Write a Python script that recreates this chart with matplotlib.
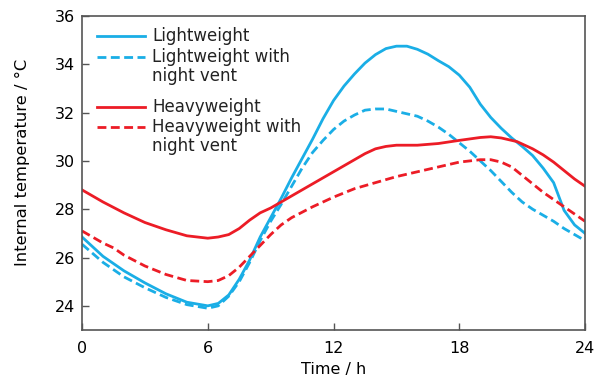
import matplotlib
matplotlib.use("Agg")
import matplotlib.pyplot as plt
from matplotlib.lines import Line2D

# ---- data ----
lw_t = [0, 1, 2, 3, 4, 5, 6, 6.5, 7, 7.5, 8, 8.5, 9, 9.5, 10, 10.5, 11, 11.5, 12,
        12.5, 13, 13.5, 14, 14.5, 15, 15.5, 16, 16.5, 17, 17.5, 18, 18.5, 19, 19.5,
        20, 20.5, 21, 21.5, 22, 22.5, 23, 23.5, 24]
lw_v = [26.85, 26.05, 25.45, 24.95, 24.5, 24.15, 24.0, 24.1, 24.45, 25.1, 25.9, 26.85,
        27.65, 28.45, 29.3, 30.1, 30.9, 31.75, 32.5, 33.1, 33.6, 34.05, 34.4, 34.65,
        34.75, 34.75, 34.62, 34.42, 34.15, 33.9, 33.55, 33.05, 32.35, 31.8, 31.35, 30.95,
        30.6, 30.22, 29.7, 29.1, 27.95, 27.35, 27.0]

lwn_t = [0, 1, 2, 3, 4, 5, 6, 6.5, 7, 7.5, 8, 8.5, 9, 9.5, 10, 10.5, 11, 11.5, 12,
         12.5, 13, 13.5, 14, 14.5, 15, 15.5, 16, 16.5, 17, 17.5, 18, 18.5, 19, 19.5,
         20, 20.5, 21, 21.5, 22, 22.5, 23, 23.5, 24]
lwn_v = [26.55, 25.8, 25.2, 24.75, 24.35, 24.05, 23.9, 24.0, 24.4, 25.0, 25.8, 26.7,
         27.5, 28.2, 28.95, 29.7, 30.35, 30.85, 31.3, 31.65, 31.9, 32.1, 32.15, 32.15,
         32.05, 31.95, 31.85, 31.65, 31.4, 31.1, 30.75, 30.4, 30.0, 29.6, 29.15, 28.7,
         28.3, 28.0, 27.75, 27.5, 27.2, 26.95, 26.7]

hw_t = [0, 1, 2, 3, 4, 5, 6, 6.5, 7, 7.5, 8, 8.5, 9, 9.5, 10, 11, 12, 13, 13.5, 14,
        14.5, 15, 16, 17, 18, 19, 19.5, 20, 20.75, 21, 21.5, 22, 22.5, 23, 23.5, 24]
hw_v = [28.8, 28.3, 27.85, 27.45, 27.15, 26.9, 26.8, 26.85, 26.95, 27.2, 27.55, 27.85,
        28.05, 28.3, 28.55, 29.05, 29.55, 30.05, 30.3, 30.5, 30.6, 30.65, 30.65, 30.72,
        30.85, 30.97, 31.0, 30.95, 30.8, 30.7, 30.5, 30.25, 29.95, 29.6, 29.25, 28.95]

hwn_t = [0, 1, 1.5, 2, 3, 4, 5, 6, 6.5, 7, 7.5, 8, 8.5, 9, 9.5, 10, 11, 12, 13, 14,
         15, 16, 17, 18, 19, 19.5, 20, 20.5, 21, 21.5, 22, 23, 24]
hwn_v = [27.1, 26.6, 26.4, 26.1, 25.65, 25.3, 25.05, 25.0, 25.05, 25.25, 25.6, 26.05,
         26.5, 26.95, 27.35, 27.65, 28.1, 28.5, 28.85, 29.1, 29.35, 29.55, 29.75, 29.95,
         30.05, 30.05, 29.95, 29.75, 29.4, 29.05, 28.7, 28.1, 27.5]

labels = ["Lightweight", "Lightweight with\nnight vent",
          "Heavyweight", "Heavyweight with\nnight vent"]
x_ticks = [0, 6, 12, 18, 24]
y_ticks = [24, 26, 28, 30, 32, 34, 36]

BLUE = "#1aaee6"
RED = "#ec1c26"
LWIDTH = 2.0
DASH = (3.2, 1.6)

fig = plt.figure(figsize=(5.97, 3.77), dpi=100)
ax = fig.add_axes([0.1374, 0.1247, 0.8426, 0.8329])

ax.plot(lw_t, lw_v, color=BLUE, lw=LWIDTH)
ax.plot(lwn_t, lwn_v, color=BLUE, lw=LWIDTH, dashes=DASH)
ax.plot(hw_t, hw_v, color=RED, lw=LWIDTH)
ax.plot(hwn_t, hwn_v, color=RED, lw=LWIDTH, dashes=DASH)

ax.set_xlim(0, 24)
ax.set_ylim(23, 36)
ax.set_xticks(x_ticks)
ax.set_yticks(y_ticks)
ax.tick_params(direction="in", length=5, width=1, color="#555555",
               labelsize=11.5, top=False, right=False)
ax.tick_params(axis="x", pad=8)
ax.tick_params(axis="y", pad=5)
for s in ax.spines.values():
    s.set_color("#555555")
    s.set_linewidth(1.2)

ax.set_xlabel("Time / h", fontsize=11.5, labelpad=4)
ax.set_ylabel("Internal temperature / °C", fontsize=11.8, va="center")
ax.yaxis.set_label_coords(-0.119, 0.535)

# manual legend
styles = [(BLUE, None), (BLUE, DASH), (RED, None), (RED, DASH)]
ypos = [0.936, 0.869, 0.710, 0.646]
line_step = 0.061
for (c, d), y, lab in zip(styles, ypos, labels):
    kw = dict(color=c, lw=LWIDTH, transform=ax.transAxes)
    if d is not None:
        kw["dashes"] = d
    ax.add_line(Line2D([0.030, 0.125], [y, y], **kw))
    for i, part in enumerate(lab.split("\n")):
        ax.text(0.139, y - i * line_step, part, transform=ax.transAxes,
                fontsize=12, va="center", ha="left", color="#222222")

fig.savefig("out.png", dpi=100)
